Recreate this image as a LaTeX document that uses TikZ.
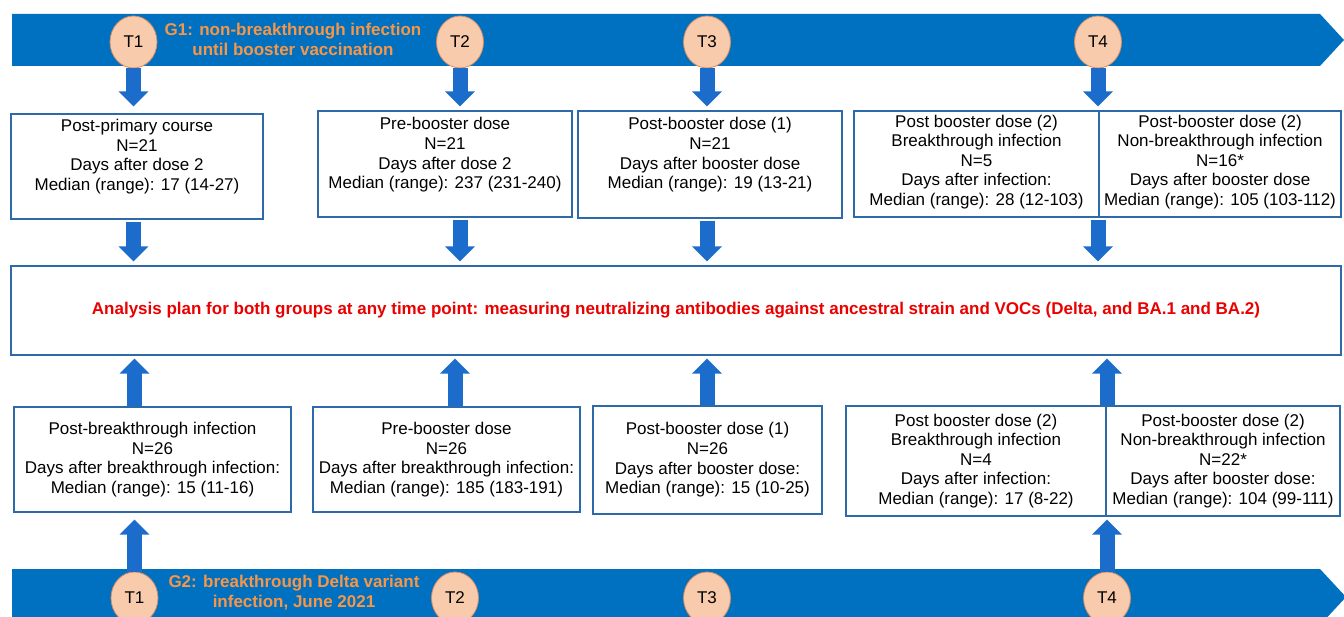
\documentclass[tikz,border=0pt]{standalone}
\usepackage{fontspec}
\setmainfont{Liberation Sans}
\usetikzlibrary{arrows.meta,shapes.geometric,calc}
\definecolor{band}{RGB}{0,112,192}
\definecolor{arr}{RGB}{28,108,204}
\definecolor{bord}{RGB}{46,105,170}
\definecolor{peach}{RGB}{248,203,173}
\definecolor{peachline}{RGB}{215,140,100}
\definecolor{orangetxt}{RGB}{247,150,70}
\definecolor{redtxt}{RGB}{235,0,0}
\begin{document}
\begin{tikzpicture}[x=1pt,y=-1pt,
  box/.style={draw=bord,line width=1.3pt,fill=white,inner sep=0pt},
  txt/.style={align=center,font=\fontsize{17}{19.6}\selectfont,inner sep=0pt},
  tnode/.style={ellipse,draw=peachline,line width=0.8pt,fill=peach,minimum width=47pt,minimum height=52pt,inner sep=0pt,font=\fontsize{17}{20}\selectfont},
  gtxt/.style={align=center,text=orangetxt,font=\fontsize{17}{20}\selectfont\bfseries,inner sep=0pt},
  blockarr/.style={draw=arr,line width=15pt,-{Triangle[width=29pt,length=15pt]}}
]
\useasboundingbox (0,0) rectangle (1344,617);
% bands
\fill[band] (12,14) -- (1320,14) -- (1344,40) -- (1320,66) -- (12,66) -- cycle;
\fill[band] (12,569) -- (1320,569) -- (1346,597) -- (1320,625) -- (12,625) -- cycle;
\node[gtxt] (g1) at (293,39) {G1: non-breakthrough infection\\until booster vaccination};
\node[gtxt] (g2) at (294,593) {G2: breakthrough Delta variant\\infection, June 2021};
% time points
\node[tnode] (t1) at (133.5,42) {T1};
\node[tnode] (t2) at (460,42) {T2};
\node[tnode] (t3) at (707,42) {T3};
\node[tnode] (t4) at (1098,42) {T4};
\node[tnode] (u1) at (134.5,598) {T1};
\node[tnode] (u2) at (455,598) {T2};
\node[tnode] (u3) at (707,598) {T3};
\node[tnode] (u4) at (1107,598) {T4};
% top boxes
\node[box,minimum width=252pt,minimum height=105pt] (b1) at (137,166.5) {};
\node[txt] (b1t) at ([yshift=10pt]b1.center) {Post-primary course\\N=21\\Days after dose 2\\Median (range): 17 (14-27)};
\node[box,minimum width=254pt,minimum height=106pt] (b2) at (445,164) {};
\node[txt] (b2t) at ([yshift=9pt]b2.center) {Pre-booster dose\\N=21\\Days after dose 2\\Median (range): 237 (231-240)};
\node[box,minimum width=264pt,minimum height=107pt] (b3) at (710,164.5) {};
\node[txt] (b3t) at ([yshift=9.5pt]b3.center) {Post-booster dose (1)\\N=21\\Days after booster dose\\Median (range): 19 (13-21)};
\node[box,minimum width=245pt,minimum height=106pt] (b4l) at (976.5,164) {};
\node[txt] (b4lt) at ([yshift=2pt]b4l.center) {Post booster dose (2)\\Breakthrough infection\\N=5\\Days after infection:\\Median (range): 28 (12-103)};
\node[box,minimum width=242pt,minimum height=106pt] (b4r) at (1220,164) {};
\node[txt] (b4rt) at ([yshift=2pt]b4r.center) {Post-booster dose (2)\\Non-breakthrough infection\\N=16*\\Days after booster dose\\Median (range): 105 (103-112)};
% analysis box
\node[box,minimum width=1330pt,minimum height=89pt] (ana) at (676,310.5) {};
\node[txt,text=redtxt,font=\fontsize{17}{20}\selectfont\bfseries] (anat) at (ana.center) {Analysis plan for both groups at any time point: measuring neutralizing antibodies against ancestral strain and VOCs (Delta, and BA.1 and BA.2)};
% bottom boxes
\node[box,txt,minimum width=277pt,minimum height=105pt] (c1) at (152.5,459.5) {Post-breakthrough infection\\N=26\\Days after breakthrough infection:\\Median (range): 15 (11-16)};
\node[box,txt,minimum width=267pt,minimum height=105pt] (c2) at (446.5,459.5) {Pre-booster dose\\N=26\\Days after breakthrough infection:\\Median (range): 185 (183-191)};
\node[box,txt,minimum width=229pt,minimum height=108pt] (c3) at (707.5,460) {Post-booster dose (1)\\N=26\\Days after booster dose:\\Median (range): 15 (10-25)};
\node[box,txt,minimum width=260pt,minimum height=110pt] (c4l) at (976,461) {Post booster dose (2)\\Breakthrough infection\\N=4\\Days after infection:\\Median (range): 17 (8-22)};
\node[box,txt,minimum width=234pt,minimum height=110pt] (c4r) at (1223,461) {Post-booster dose (2)\\Non-breakthrough infection\\N=22*\\Days after booster dose:\\Median (range): 104 (99-111)};
% arrows band -> top boxes
\draw[blockarr,shorten >=7pt] (t1.south) -- (t1.south |- b1.north);
\draw[blockarr,shorten >=4pt] (t2.south) -- (t2.south |- b2.north);
\draw[blockarr,shorten >=4pt] (t3.south) -- (t3.south |- b3.north);
\draw[blockarr,shorten >=4pt] (t4.south) -- (t4.south |- b4l.north);
% top boxes -> analysis
\draw[blockarr,shorten <=2pt,shorten >=4pt] (b1.south -| t1) -- (ana.north -| t1);
\draw[blockarr,shorten <=2pt,shorten >=4pt] (b2.south -| t2) -- (ana.north -| t2);
\draw[blockarr,shorten <=2pt,shorten >=4pt] (b3.south -| t3) -- (ana.north -| t3);
\draw[blockarr,shorten <=2pt,shorten >=4pt] (b4l.south -| t4) -- (ana.north -| t4);
% bottom boxes -> analysis
\draw[blockarr,shorten >=3pt] (c1.north -| u1) -- (ana.south -| u1);
\draw[blockarr,shorten >=3pt] (c2.north -| u2) -- (ana.south -| u2);
\draw[blockarr,shorten >=3pt] (c3.north -| u3) -- (ana.south -| u3);
\draw[blockarr,shorten >=3pt] (c4l.north -| u4) -- (ana.south -| u4);
% band -> bottom boxes
\draw[blockarr,shorten >=7pt] (u1.north) -- (u1.north |- c1.south);
\draw[blockarr,shorten >=3pt] (u4.north) -- (u4.north |- c4l.south);
\end{tikzpicture}
\end{document}
